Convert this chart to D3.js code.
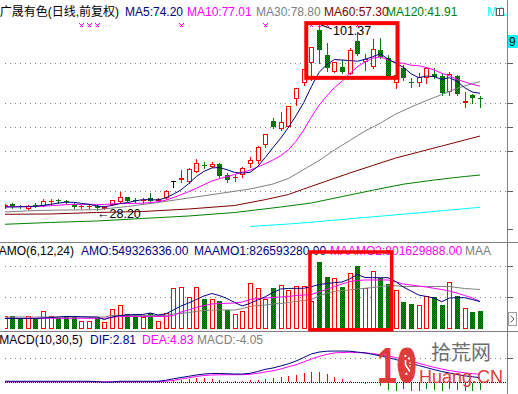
<!DOCTYPE html>
<html>
<head>
<meta charset="utf-8">
<script src="https://cdn.jsdelivr.net/npm/d3@7"></script>
<style>
  body { margin: 0; background: #fff; }
  svg { display: block; font-family: "Liberation Sans", Arial, "Noto Sans CJK SC", sans-serif; font-size: 12px; }
</style>
</head>
<body>
<svg id="chart"></svg>
<script>
// ---- values: 63 daily bars, left to right ----
const stockTitle = '广晟有色(日线,前复权)';

const barOpen = [29.3, 30.3, 29.7, 28.6, 30.1, 29.7, 31.4, 32.0, 31.5, 30.4,
  29.2, 29.1, 29.7, 28.6, 30.1, 31.4, 33.1, 32.2, 31.9, 32.8,
  31.8, 32.7, 39.5, 39.9, 39.2, 43.2, 46.0, 45.2, 46.3, 41.9,
  41.0, 41.9, 46.3, 47.6, 53.7, 63.2, 59.9, 61.0, 71.8, 78.1,
  86.0, 99.1, 89.3, 82.7, 84.6, 82.0, 94.8, 86.6, 84.6, 91.2,
  88.2, 78.1, 84.0, 78.8, 78.3, 80.1, 82.0, 81.0, 74.8, 81.0,
  70.2, 73.5, 72.4];
const barHigh = [30.3, 31.0, 30.0, 30.0, 30.8, 32.3, 32.3, 32.6, 32.1, 30.8,
  29.9, 29.9, 30.0, 29.6, 32.2, 35.3, 33.3, 33.0, 32.9, 34.7,
  32.8, 36.0, 39.5, 43.9, 44.5, 48.1, 47.2, 47.2, 46.5, 42.6,
  41.9, 45.2, 49.0, 53.2, 58.3, 64.4, 66.9, 69.2, 76.3, 83.8,
  92.6, 101.37, 94.0, 86.6, 87.3, 91.9, 98.5, 89.9, 95.6, 96.1,
  89.3, 86.0, 85.3, 80.1, 82.4, 84.6, 84.0, 82.0, 82.7, 81.4,
  74.8, 74.1, 73.1];
const barLow = [28.9, 29.0, 29.0, 28.5, 29.1, 29.5, 30.5, 31.0, 30.8, 29.0,
  29.0, 28.9, 28.2, 28.4, 29.9, 31.2, 31.6, 31.4, 30.9, 31.6,
  31.6, 32.5, 37.2, 39.0, 38.9, 43.0, 44.5, 45.0, 41.0, 39.3,
  39.7, 41.2, 45.1, 46.8, 53.1, 60.3, 59.6, 60.7, 69.5, 77.6,
  79.5, 86.1, 82.9, 82.5, 82.3, 81.8, 89.5, 83.3, 84.0, 88.2,
  80.4, 76.1, 79.4, 76.8, 77.1, 78.1, 80.1, 73.5, 73.5, 73.5,
  68.9, 70.2, 68.9];
const barClose = [29.9, 29.5, 29.2, 29.7, 29.5, 31.7, 31.6, 31.8, 31.3, 29.2,
  29.7, 29.7, 28.8, 29.4, 32.0, 33.1, 31.8, 32.0, 32.1, 31.8,
  32.6, 35.7, 39.5, 40.6, 44.3, 46.5, 45.8, 46.3, 41.5, 39.9,
  41.2, 44.5, 47.8, 52.8, 58.0, 60.7, 62.9, 69.0, 76.1, 83.6,
  92.3, 91.2, 84.1, 86.4, 82.7, 91.2, 89.9, 87.9, 91.5, 88.6,
  80.7, 81.6, 80.1, 78.6, 80.7, 84.0, 80.7, 74.4, 82.0, 73.8,
  71.1, 72.2, 72.2];

// moving averages of the close, one value per bar
const ma5 = [29.3, 29.3, 29.4, 29.4, 29.56, 29.92, 30.34, 30.86, 31.18, 31.12,
  30.72, 30.34, 29.74, 29.36, 29.92, 30.60, 31.02, 31.66, 32.20, 32.16,
  32.06, 32.84, 34.34, 36.04, 38.54, 41.32, 43.34, 44.70, 44.88, 44.00,
  42.94, 42.68, 42.98, 45.24, 48.86, 52.76, 56.44, 60.68, 65.34, 70.46,
  76.78, 82.44, 85.46, 87.52, 87.34, 87.12, 86.86, 87.62, 88.64, 89.82,
  87.72, 86.06, 84.50, 81.92, 80.34, 81.00, 80.82, 79.68, 80.36, 78.98,
  76.40, 74.70, 74.20];
const ma10 = [29.4, 29.4, 29.4, 29.5, 29.5, 29.6, 29.8, 30.0, 30.2, 30.34,
  30.32, 30.34, 30.30, 30.27, 30.52, 30.66, 30.68, 30.70, 30.78, 31.04,
  31.33, 31.93, 33.00, 34.12, 35.35, 36.69, 38.09, 39.52, 40.46, 41.27,
  42.13, 43.01, 43.84, 45.06, 46.43, 47.85, 49.56, 51.83, 55.29, 59.66,
  64.77, 69.44, 73.07, 76.43, 78.90, 81.95, 84.65, 86.54, 88.08, 88.58,
  87.42, 86.46, 86.06, 85.28, 85.08, 84.36, 83.44, 82.09, 81.14, 79.66,
  78.70, 77.76, 77.01];
// slow averages, read at some bars only
const ma30Bars = [0, 4, 8, 12, 16, 20, 24, 28, 32, 35, 37, 39, 41, 43, 45, 47, 49, 51, 53, 55, 57, 59, 61, 62];
const ma30 = [27.31, 27.90, 28.10, 28.22, 29.48, 31.06, 32.83, 34.61, 36.39, 38.36, 40.53, 44.08,
  47.63, 51.78, 55.52, 59.27, 62.43, 65.98, 68.74, 71.31, 73.68, 76.12, 78.02, 78.80];
const ma60Bars = [0, 6, 12, 18, 24, 30, 34, 37, 39, 42, 45, 48, 51, 54, 57, 60, 62];
const ma60 = [26.40, 26.52, 27.11, 27.51, 28.49, 29.88, 32.2, 34.21, 36.39, 39.54, 42.70, 45.66,
  48.62, 50.99, 53.35, 55.72, 57.30];
const ma120Bars = [0, 6, 12, 18, 24, 30, 36, 40, 44, 48, 52, 56, 60, 62];
const ma120 = [22.46, 23.17, 23.76, 24.75, 25.73, 27.11, 29.28, 30.86, 33.4, 35.9, 38.3, 39.94, 41.32, 41.91];
const ma250Bars = [32, 38, 44, 50, 56, 62];
const ma250 = [21.59, 22.77, 24.35, 25.93, 27.51, 29.17];

// turnover AMO and its averages, in 1e8 yuan
const amo = [3.77, 3.92, 3.31, 3.86, 2.95, 5.36, 3.86, 3.46, 3.98, 3.61,
  2.35, 2.35, 3.25, 2.02, 5.93, 7.17, 4.52, 4.16, 3.61, 4.91,
  2.35, 4.91, 12.29, 12.65, 9.64, 12.56, 8.89, 8.89, 8.58, 5.63,
  4.37, 5.36, 13.80, 12.41, 8.89, 12.41, 13.19, 11.66, 12.89, 12.89,
  8.43, 20.24, 15.66, 15.30, 12.65, 16.81, 18.98, 12.41, 17.41, 15.42,
  13.55, 11.81, 8.19, 7.53, 7.29, 9.85, 9.64, 7.29, 14.07, 9.88,
  6.27, 5.06, 5.49];
const maamo1 = [3.16, 3.16, 3.16, 3.16, 3.16, 3.31, 3.46, 3.61, 3.77, 3.77,
  3.70, 3.61, 3.61, 2.86, 3.61, 4.07, 4.22, 4.37, 4.37, 4.82,
  4.22, 4.52, 5.72, 6.93, 7.83, 8.89, 9.94, 10.69, 10.09, 9.19,
  7.98, 6.93, 7.74, 8.73, 9.73, 10.99, 12.05, 12.20, 12.26, 12.26,
  12.74, 13.40, 13.70, 13.95, 14.16, 15.06, 16.42, 15.51, 15.45, 15.45,
  15.45, 14.31, 12.65, 11.45, 10.24, 9.79, 9.34, 8.22, 9.34, 9.43,
  9.43, 8.89, 8.27];
const maamo2 = [3.22, 3.22, 3.22, 3.22, 3.22, 3.22, 3.22, 3.22, 3.22, 3.22,
  3.22, 3.22, 3.22, 3.22, 3.46, 3.77, 3.77, 3.77, 3.77, 3.77,
  3.77, 3.77, 4.07, 5.12, 5.72, 6.48, 7.08, 7.53, 7.68, 7.74,
  7.83, 8.13, 8.89, 9.19, 9.34, 9.49, 9.64, 9.79, 10.09, 10.24,
  10.39, 11.14, 11.90, 12.74, 13.55, 14.25, 14.61, 14.76, 14.76, 14.76,
  14.76, 14.2, 13.55, 13.25, 12.95, 12.65, 12.26, 11.9, 11.45, 10.84,
  10.09, 9.34, 8.3];
const maamo3 = [3.61, 3.61, 3.61, 3.61, 3.61, 3.61, 3.61, 3.61, 3.61, 3.61,
  3.61, 3.61, 3.61, 3.61, 4.07, 4.07, 4.07, 4.07, 4.07, 4.07,
  4.07, 4.07, 4.52, 4.67, 4.97, 5.27, 5.57, 5.72, 5.72, 5.72,
  5.72, 6.17, 6.78, 7.08, 7.23, 7.53, 7.68, 7.98, 8.28, 8.58,
  8.89, 9.94, 10.84, 11.30, 11.60, 11.75, 12.05, 12.26, 12.50, 12.80,
  13.04, 13.04, 12.80, 12.80, 12.80, 12.80, 12.80, 12.80, 12.80, 12.50,
  12.20, 12.05, 11.90];

// MACD(10,30,5)
const dif = [0.71, 0.71, 0.71, 0.71, 0.71, 0.71, 0.71, 0.71, 0.71, 0.71,
  0.71, 0.71, 0.53, 0.18, 0.29, 0.71, 0.71, 0.71, 0.71, 0.71,
  0.71, 1.29, 2.18, 2.94, 3.65, 4.41, 5.00, 5.29, 5.29, 5.12,
  5.00, 5.00, 5.41, 6.47, 7.76, 8.53, 9.71, 11.0, 12.6, 14.7,
  16.8, 17.9, 18.4, 18.5, 18.5, 18.4, 17.9, 17.4, 16.6, 15.6,
  14.7, 13.5, 12.4, 11.3, 10.0, 8.8, 7.6, 6.5, 5.6, 4.7,
  3.9, 3.4, 2.81];
const dea = [0.41, 0.41, 0.41, 0.41, 0.41, 0.41, 0.41, 0.41, 0.41, 0.41,
  0.41, 0.41, 0.41, 0.41, 0.41, 0.41, 0.41, 0.41, 0.41, 0.41,
  0.41, 0.71, 1.29, 2.06, 2.76, 3.53, 4.12, 4.41, 4.53, 4.59,
  4.59, 4.59, 4.82, 5.41, 6.18, 6.88, 7.94, 9.24, 10.4, 12.1,
  13.8, 15.3, 16.5, 17.4, 17.6, 17.8, 17.6, 17.4, 17.0, 16.3,
  15.6, 14.7, 13.6, 12.4, 11.3, 10.1, 8.94, 7.94, 7.06, 6.29,
  5.71, 5.24, 4.83];
const macdBar = [0, 0, 0, 0, 0, 0, 0, 0, 0, 0,
  0, 0, 0, 0, 0, 0, 0, 0, 0, 0,
  0, 0.3, 1.2, 1.5, 1.8, 2.4, 2.4, 2.1, 1.5, 0.9,
  0.6, 0.9, 1.5, 1.5, 2.1, 2.8, 3.4, 4.0, 4.4, 5.4,
  6.4, 6.4, 4.8, 3.4, 2.1, 0.9, 0.2, -0.3, 0.2, -1.5,
  -4.1, -4.4, -3.5, -4.4, -4.4, -3.5, -3.8, -4.4, -3.5, -3.8,
  -4.4, -4.4, -4.05];

// legend texts
const maLegend = ['MA5:74.20', 'MA10:77.01', 'MA30:78.80', 'MA60:57.30', 'MA120:41.91', 'MA.'];
const amoLegend = ['AMO(6,12,24)', 'AMO:549326336.00', 'MAAMO1:826593280.00', 'MAAMO2:801629888.00', 'MAA'];
const macdLegend = ['MACD(10,30,5)', 'DIF:2.81', 'DEA:4.83', 'MACD:-4.05'];

// right axis tick values (their labels fall outside the picture)
const priceTicks = [85.91, 70.12, 60.65, 51.18, 35.40, 20.21];
const amoTicks = [18.8, 9.49];
const macdTicks = [14.1];

// bars carrying the magenta signal cross, and the two red frames [fromBar, toBar, low, high]
const signalBars = [10, 11, 12, 23, 34, 40, 41, 42, 46];
const priceFrame = [39.34, 51.24, 80.3, 101.9];
const amoFrame = [39.82, 50.48, -0.24, 23.2];


class KLineChart {
    constructor(_config) {
        this.config = {
            parentElement: _config.parentElement,
            containerWidth: _config.containerWidth || 518,
            containerHeight: _config.containerHeight || 394,
            plotLeft: 5,
            axisX: 507.5
        }
        this.colors = {
            up: '#ff0000', down: '#008000', flat: '#000000',
            navy: '#000080', magenta: '#ff00ff', gray: '#808080',
            darkRed: '#800000', green: '#008000', cyan: '#00ffff'
        };
        this.initVis();
    }

    initVis() {
        let vis = this;

        vis.svg = d3.select(vis.config.parentElement)
            .attr('width', vis.config.containerWidth)
            .attr('height', vis.config.containerHeight);

        const defs = vis.svg.append('defs');

        // dithered green fill for falling bars
        const pat = defs.append('pattern').attr('id', 'downFill')
            .attr('width', 2).attr('height', 2).attr('patternUnits', 'userSpaceOnUse');
        pat.append('rect').attr('width', 2).attr('height', 2).attr('fill', '#009600');
        pat.append('rect').attr('width', 1).attr('height', 1).attr('fill', '#005400');
        pat.append('rect').attr('x', 1).attr('y', 1).attr('width', 1).attr('height', 1).attr('fill', '#005400');

        // one clip per panel
        [['clipMain', 0, 242], ['clipAmo', 243, 88], ['clipMacd', 332, 62]].forEach(([id, y, h]) => {
            defs.append('clipPath').attr('id', id).append('rect')
                .attr('x', vis.config.plotLeft).attr('y', y)
                .attr('width', vis.config.axisX - vis.config.plotLeft).attr('height', h);
        });

        // scales: bar index -> x, and one value scale per panel
        vis.xScale = d3.scaleLinear().domain([0, barClose.length - 1]).range([4.67, 480]);
        vis.yScale = d3.scaleLinear().domain([20.2, 105]).range([230, 15.3]);
        vis.amoScale = d3.scaleLinear().domain([0, 26]).range([329, 242.68]);
        vis.macdScale = d3.scaleLinear().domain([-6.8, 20]).range([394.06, 348.5]);

        vis.bars = barClose.map((c, i) => ({
            i: i, o: barOpen[i], h: barHigh[i], l: barLow[i], c: c, amo: amo[i], macd: macdBar[i]
        }));

        vis.renderVis();
    }

    barColor(d) {
        return d.c > d.o ? this.colors.up : (d.c < d.o ? this.colors.down : this.colors.flat);
    }

    renderVis() {
        let vis = this;
        const c = vis.colors;
        const bx = i => Math.round(vis.xScale(i));

        // dotted grid rows
        const gridRows = [
            ...priceTicks.slice(0, 5).map(v => vis.yScale(v)),
            ...amoTicks.map(v => vis.amoScale(v)),
            ...macdTicks.map(v => vis.macdScale(v))
        ];
        vis.svg.append('g').selectAll('line').data(gridRows).join('line')
            .attr('x1', vis.config.plotLeft).attr('x2', vis.config.axisX - 1)
            .attr('y1', d => Math.floor(d) + 0.5).attr('y2', d => Math.floor(d) + 0.5)
            .attr('stroke', c.gray).attr('stroke-dasharray', '1,4');

        // MACD zero line
        const zeroY = Math.floor(vis.macdScale(0)) + 0.5;
        vis.svg.append('line')
            .attr('x1', vis.config.plotLeft).attr('x2', vis.config.axisX - 1)
            .attr('y1', zeroY).attr('y2', zeroY)
            .attr('stroke', '#000').attr('stroke-dasharray', '1,1');

        // panel separators and right axis
        [242.5, 331.5].forEach(y => {
            vis.svg.append('line').attr('x1', 0).attr('x2', vis.config.containerWidth)
                .attr('y1', y).attr('y2', y).attr('stroke', c.gray);
        });
        vis.svg.append('line').attr('x1', vis.config.axisX).attr('x2', vis.config.axisX)
            .attr('y1', 0).attr('y2', vis.config.containerHeight).attr('stroke', c.gray);

        [[vis.yScale, priceTicks], [vis.amoScale, amoTicks], [vis.macdScale, macdTicks]].forEach(([s, t]) => {
            vis.svg.append('g')
                .attr('transform', `translate(${vis.config.axisX - 0.5},0)`)
                .call(d3.axisRight(s).tickValues(t).tickSize(6).tickFormat('').offset(0))
                .call(g => g.select('.domain').remove())
                .call(g => g.selectAll('line').attr('stroke', '#606060').attr('shape-rendering', 'crispEdges'));
        });

        // ---------- price panel ----------
        const main = vis.svg.append('g').attr('clip-path', 'url(#clipMain)');

        const candles = main.selectAll('g.candle').data(vis.bars).join('g')
            .attr('class', 'candle')
            .attr('transform', d => `translate(${bx(d.i)},0)`)
            .attr('shape-rendering', 'crispEdges');

        candles.each(function(d) {
            const g = d3.select(this);
            const col = vis.barColor(d);
            const top = Math.round(vis.yScale(Math.max(d.o, d.c)));
            const bot = Math.round(vis.yScale(Math.min(d.o, d.c)));
            g.append('line').attr('x1', 0.5).attr('x2', 0.5)
                .attr('y1', Math.round(vis.yScale(d.h))).attr('y2', Math.round(vis.yScale(d.l)) + 1)
                .attr('stroke', col);
            if (bot - top < 2) {
                g.append('line').attr('x1', -2).attr('x2', 3)
                    .attr('y1', top + 0.5).attr('y2', top + 0.5).attr('stroke', col);
            } else if (d.c > d.o) {
                g.append('rect').attr('x', -1.5).attr('y', top + 0.5)
                    .attr('width', 4).attr('height', bot - top - 1)
                    .attr('fill', '#fff').attr('stroke', col);
            } else {
                g.append('rect').attr('x', -2).attr('y', top)
                    .attr('width', 5).attr('height', bot - top)
                    .attr('fill', 'url(#downFill)');
            }
        });

        // moving average lines
        const priceLine = d3.line().x(d => vis.xScale(d[0])).y(d => vis.yScale(d[1]));
        const maSeries = [
            [ma250Bars.map((b, k) => [b, ma250[k]]), c.cyan],
            [ma120Bars.map((b, k) => [b, ma120[k]]), c.green],
            [ma60Bars.map((b, k) => [b, ma60[k]]), c.darkRed],
            [ma30Bars.map((b, k) => [b, ma30[k]]), c.gray],
            [ma10.map((v, k) => [k, v]), c.magenta],
            [ma5.map((v, k) => [k, v]), c.navy]
        ];
        main.selectAll('path.ma').data(maSeries).join('path')
            .attr('class', 'ma')
            .attr('d', d => priceLine(d[0]))
            .attr('fill', 'none').attr('stroke', d => d[1]).attr('stroke-width', 1);

        // signal crosses along the top
        const crosses = vis.svg.append('g').attr('stroke', c.magenta).attr('shape-rendering', 'crispEdges');
        signalBars.forEach(b => {
            const x = bx(b);
            crosses.append('path').attr('d', `M${x - 1.5},23.5L${x + 2.5},27.5M${x - 1.5},27.5L${x + 2.5},23.5`);
        });

        // highest and lowest price labels
        const hi = d3.maxIndex(barHigh), lo = d3.minIndex(barLow);
        const hiY = vis.yScale(barHigh[hi]);
        vis.svg.append('line')
            .attr('x1', bx(hi) + 2).attr('y1', hiY + 0.5)
            .attr('x2', bx(hi) + 13).attr('y2', hiY + 4.5)
            .attr('stroke', '#000');
        vis.svg.append('text').attr('x', bx(hi) + 14).attr('y', hiY + 11)
            .attr('font-size', 12.5).attr('fill', '#000')
            .text(d3.format('.2f')(barHigh[hi]));
        vis.svg.append('text').attr('x', bx(lo)).attr('y', vis.yScale(barLow[lo]) + 8.5)
            .attr('font-size', 12.5).attr('fill', '#000')
            .text('←' + d3.format('.2f')(barLow[lo]));

        // ---------- AMO panel ----------
        const amoG = vis.svg.append('g').attr('clip-path', 'url(#clipAmo)');
        const base = Math.round(vis.amoScale(0));
        amoG.selectAll('g.vol').data(vis.bars).join('g')
            .attr('class', 'vol')
            .attr('transform', d => `translate(${bx(d.i)},0)`)
            .attr('shape-rendering', 'crispEdges')
            .each(function(d) {
                const g = d3.select(this);
                const top = Math.round(vis.amoScale(d.amo));
                if (d.c >= d.o) {
                    g.append('rect').attr('x', -1.5).attr('y', top + 0.5)
                        .attr('width', 4).attr('height', base - top - 1)
                        .attr('fill', '#fff').attr('stroke', c.up);
                } else {
                    g.append('rect').attr('x', -2).attr('y', top)
                        .attr('width', 5).attr('height', base - top)
                        .attr('fill', 'url(#downFill)');
                }
            });

        const amoLine = d3.line().x((d, k) => vis.xScale(k)).y(d => vis.amoScale(d));
        amoG.selectAll('path.maamo').data([[maamo3, c.gray], [maamo2, c.magenta], [maamo1, c.navy]]).join('path')
            .attr('class', 'maamo')
            .attr('d', d => amoLine(d[0]))
            .attr('fill', 'none').attr('stroke', d => d[1]);

        // ---------- MACD panel ----------
        const macdG = vis.svg.append('g').attr('clip-path', 'url(#clipMacd)');
        macdG.selectAll('line.stick').data(vis.bars.filter(d => Math.abs(d.macd) >= 0.15)).join('line')
            .attr('class', 'stick')
            .attr('shape-rendering', 'crispEdges')
            .attr('x1', d => bx(d.i) + 0.5).attr('x2', d => bx(d.i) + 0.5)
            .attr('y1', d => d.macd > 0 ? zeroY - 0.5 : zeroY + 0.5)
            .attr('y2', d => Math.round(vis.macdScale(d.macd)) + (d.macd > 0 ? 0 : 1))
            .attr('stroke', d => d.macd > 0 ? c.up : c.down);

        // site watermark in the bottom right corner: "10" whose 0 is a clock face
        const wmRed = '#e03a3a';
        const wm = vis.svg.append('g').attr('class', 'watermark');
        wm.append('ellipse').attr('cx', 405.5).attr('cy', 365).attr('rx', 8).attr('ry', 13.5)
            .attr('fill', wmRed);
        wm.append('ellipse').attr('cx', 405.5).attr('cy', 365).attr('rx', 5).attr('ry', 9)
            .attr('fill', 'none').attr('stroke', '#fff').attr('stroke-width', 2).attr('stroke-dasharray', '2,2.6');
        wm.append('path').attr('d', 'M405.5,365L409,370M405.5,365L405.5,360')
            .attr('stroke', '#fff').attr('stroke-width', 1.6);
        wm.append('text').attr('transform', 'translate(377,383) scale(1,1.4)')
            .attr('font-size', 36).attr('font-weight', 'bold')
            .attr('fill', wmRed).text('10');
        wm.append('text').attr('x', 431).attr('y', 360)
            .attr('font-family', '"Noto Sans CJK SC", sans-serif').attr('font-size', 20)
            .attr('fill', '#6e6e6e').text('拾荒网');
        wm.append('text').attr('x', 419).attr('y', 383)
            .attr('font-size', 19).attr('textLength', 84).attr('lengthAdjust', 'spacingAndGlyphs')
            .attr('fill', wmRed).text('Huang.CN');

        const macdLine = d3.line().x((d, k) => vis.xScale(k)).y(d => vis.macdScale(d));
        macdG.selectAll('path.macd').data([[dea, c.magenta], [dif, c.navy]]).join('path')
            .attr('class', 'macd')
            .attr('d', d => macdLine(d[0]))
            .attr('fill', 'none').attr('stroke', d => d[1]);

        // ---------- legends ----------
        const legend = (y, first, firstEnd, items, xs, cols) => {
            vis.svg.append('text').attr('x', firstEnd).attr('y', y)
                .attr('text-anchor', 'end').attr('fill', '#000').text(first);
            items.forEach((t, k) => {
                vis.svg.append('text').attr('x', xs[k]).attr('y', y).attr('fill', cols[k]).text(t);
            });
        };
        legend(16, stockTitle, 119, maLegend, [125, 187, 256, 324, 386, 487],
            [c.navy, c.magenta, c.gray, c.darkRed, c.green, c.cyan]);
        legend(255, amoLegend[0], 74, amoLegend.slice(1), [81, 194, 330, 465],
            [c.navy, c.navy, c.magenta, c.gray]);
        legend(344, macdLegend[0], 82.7, macdLegend.slice(1), [90, 142, 197],
            [c.navy, c.magenta, c.gray]);

        // small window button, price tag and scroll button at the right edge
        vis.svg.append('rect').attr('x', 496.5).attr('y', 8.5).attr('width', 7).attr('height', 7)
            .attr('fill', '#fff').attr('stroke', '#606060');
        vis.svg.append('line').attr('x1', 499.5).attr('x2', 499.5).attr('y1', 8.5).attr('y2', 15.5)
            .attr('stroke', '#606060');
        vis.svg.append('rect').attr('x', 508).attr('y', 35).attr('width', 12).attr('height', 13)
            .attr('fill', c.cyan);
        vis.svg.append('text').attr('x', 509).attr('y', 46).attr('fill', '#000').text('9');
        vis.svg.append('rect').attr('x', 508.5).attr('y', 312.5).attr('width', 8).attr('height', 13)
            .attr('fill', '#fff').attr('stroke', '#a0a0a0');
        vis.svg.append('path').attr('d', 'M510.5,315.5L514,319L510.5,322.5')
            .attr('fill', 'none').attr('stroke', '#606060');

        // red highlight frames
        vis.svg.append('rect')
            .attr('x', vis.xScale(priceFrame[0])).attr('y', vis.yScale(priceFrame[3]))
            .attr('width', vis.xScale(priceFrame[1]) - vis.xScale(priceFrame[0]))
            .attr('height', vis.yScale(priceFrame[2]) - vis.yScale(priceFrame[3]))
            .attr('fill', 'none').attr('stroke', c.up).attr('stroke-width', 4);
        vis.svg.append('rect')
            .attr('x', vis.xScale(amoFrame[0])).attr('y', vis.amoScale(amoFrame[3]))
            .attr('width', vis.xScale(amoFrame[1]) - vis.xScale(amoFrame[0]))
            .attr('height', vis.amoScale(amoFrame[2]) - vis.amoScale(amoFrame[3]))
            .attr('fill', 'none').attr('stroke', c.up).attr('stroke-width', 3.5);
    }
}

const chart = new KLineChart({ parentElement: '#chart' });
</script>
</body>
</html>
